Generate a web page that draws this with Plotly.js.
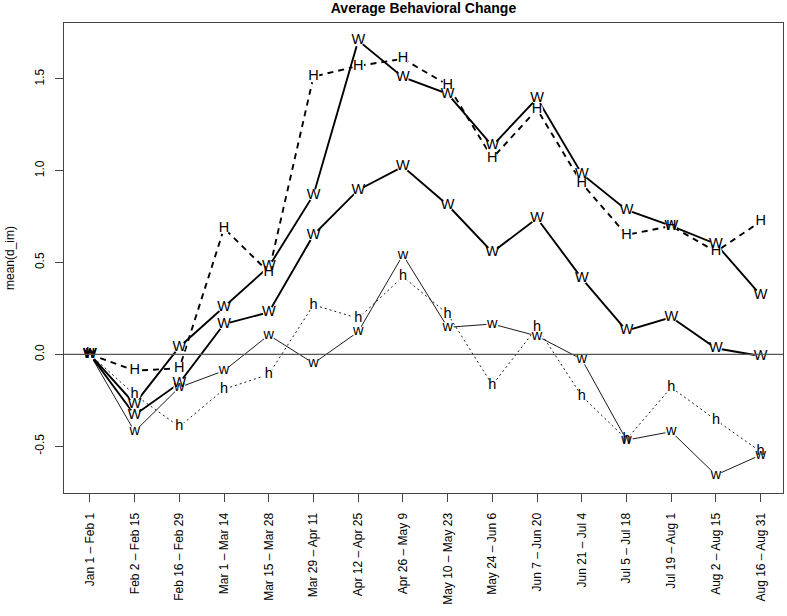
<!DOCTYPE html>
<html>
<head>
<meta charset="utf-8">
<script src="https://cdn.plot.ly/plotly-3.0.1.min.js"></script>
<style>html,body{margin:0;padding:0;background:#fff;}#chart{width:787px;height:616px;}</style>
</head>
<body>
<div id="chart"></div>
<script>
var categories = ["Jan 1 – Feb 1","Feb 2 – Feb 15","Feb 16 – Feb 29","Mar 1 – Mar 14","Mar 15 – Mar 28","Mar 29 – Apr 11","Apr 12 – Apr 25","Apr 26 – May 9","May 10 – May 23","May 24 – Jun 6","Jun 7 – Jun 20","Jun 21 – Jul 4","Jul 5 – Jul 18","Jul 19 – Aug 1","Aug 2 – Aug 15","Aug 16 – Aug 31"];
var seriesW1 = [0, -0.27, 0.04, 0.256, 0.477, 0.868, 1.708, 1.509, 1.418, 1.135, 1.394, 0.982, 0.786, 0.699, 0.601, 0.323];
var seriesH1 = [0, -0.089, -0.076, 0.686, 0.447, 1.512, 1.570, 1.609, 1.467, 1.068, 1.334, 0.931, 0.650, 0.699, 0.559, 0.723];
var seriesW2 = [0, -0.33, -0.157, 0.165, 0.229, 0.650, 0.895, 1.022, 0.813, 0.556, 0.741, 0.414, 0.129, 0.202, 0.033, -0.009];
var seriesw = [0, -0.42, -0.18, -0.089, 0.105, -0.049, 0.123, 0.541, 0.147, 0.165, 0.100, -0.027, -0.467, -0.421, -0.657, -0.548];
var seriesh = [0, -0.22, -0.394, -0.19, -0.109, 0.269, 0.196, 0.423, 0.22, -0.167, 0.147, -0.227, -0.463, -0.18, -0.358, -0.53];
var yTicks = [-0.5, 0.0, 0.5, 1.0, 1.5];
var yTickText = ["-0.5", "0.0", "0.5", "1.0", "1.5"];

var xIdx = categories.map(function(c, i){ return i; });
var FONT = "Liberation Sans, Arial, Helvetica, sans-serif";

var specs = [
  {y: seriesh, ch: "h", width: 0.9, dash: "2px,3px"},
  {y: seriesw, ch: "w", width: 0.9, dash: "solid"},
  {y: seriesW2, ch: "W", width: 1.9, dash: "solid"},
  {y: seriesH1, ch: "H", width: 1.9, dash: "6px,5px"},
  {y: seriesW1, ch: "W", width: 1.9, dash: "solid"}
];

function lineTrace(s) {
  return {x: xIdx, y: s.y, type: "scatter", mode: "lines",
    line: {color: "#000", width: s.width, dash: s.dash},
    hoverinfo: "none", showlegend: false};
}
function gapTrace(s) {
  return {x: xIdx, y: s.y, type: "scatter", mode: "markers",
    marker: {symbol: "circle", size: 12, color: "#fff", line: {width: 0}},
    hoverinfo: "none", showlegend: false, cliponaxis: false};
}
function textTrace(s) {
  return {x: xIdx, y: s.y, type: "scatter", mode: "text",
    text: s.y.map(function(){ return s.ch; }),
    textposition: "middle center",
    textfont: {family: FONT, size: 14.5, color: "#000"},
    hoverinfo: "none", showlegend: false, cliponaxis: false};
}

var data = specs.map(lineTrace)
  .concat(specs.map(gapTrace))
  .concat(specs.map(textTrace));

var layout = {
  width: 787, height: 616,
  margin: {l: 64, r: 4, t: 23, b: 123},
  paper_bgcolor: "#fff", plot_bgcolor: "#fff",
  font: {family: FONT, size: 12, color: "#000"},
  title: {text: "<b>Average Behavioral Change</b>", font: {family: FONT, size: 14, color: "#000"},
          xref: "paper", x: 0.5, xanchor: "center", yref: "container", y: 1 - 8/616, yanchor: "middle"},
  xaxis: {
    range: [-0.58, 15.5], showgrid: false, zeroline: false,
    tickmode: "array", tickvals: xIdx, ticktext: categories, tickangle: -90,
    ticks: "outside", ticklen: 8, tickwidth: 1, tickcolor: "#444",
    showline: true, linecolor: "#444", linewidth: 1, mirror: true,
    ticklabelstandoff: 6,
    tickfont: {family: FONT, size: 12, color: "#000"}
  },
  yaxis: {
    range: [-0.755, 1.804], showgrid: false, zeroline: false,
    tickmode: "array", tickvals: yTicks, ticktext: yTickText, tickangle: -90,
    ticks: "outside", ticklen: 8, tickwidth: 1, tickcolor: "#444",
    showline: true, linecolor: "#444", linewidth: 1, mirror: true,
    ticklabelstandoff: 6,
    tickfont: {family: FONT, size: 12, color: "#000"}
  },
  shapes: [{type: "line", xref: "paper", x0: 0, x1: 1, yref: "y", y0: 0, y1: 0,
            line: {color: "#555", width: 1.2}, layer: "above"}],
  annotations: [{
    text: "mean(d_im)", xref: "paper", yref: "paper",
    x: -54/719, y: 0.5, xanchor: "center", yanchor: "middle",
    textangle: -90, showarrow: false,
    font: {family: FONT, size: 12, color: "#000"}
  }]
};

Plotly.newPlot("chart", data, layout, {displayModeBar: false, staticPlot: true});
</script>
</body>
</html>
